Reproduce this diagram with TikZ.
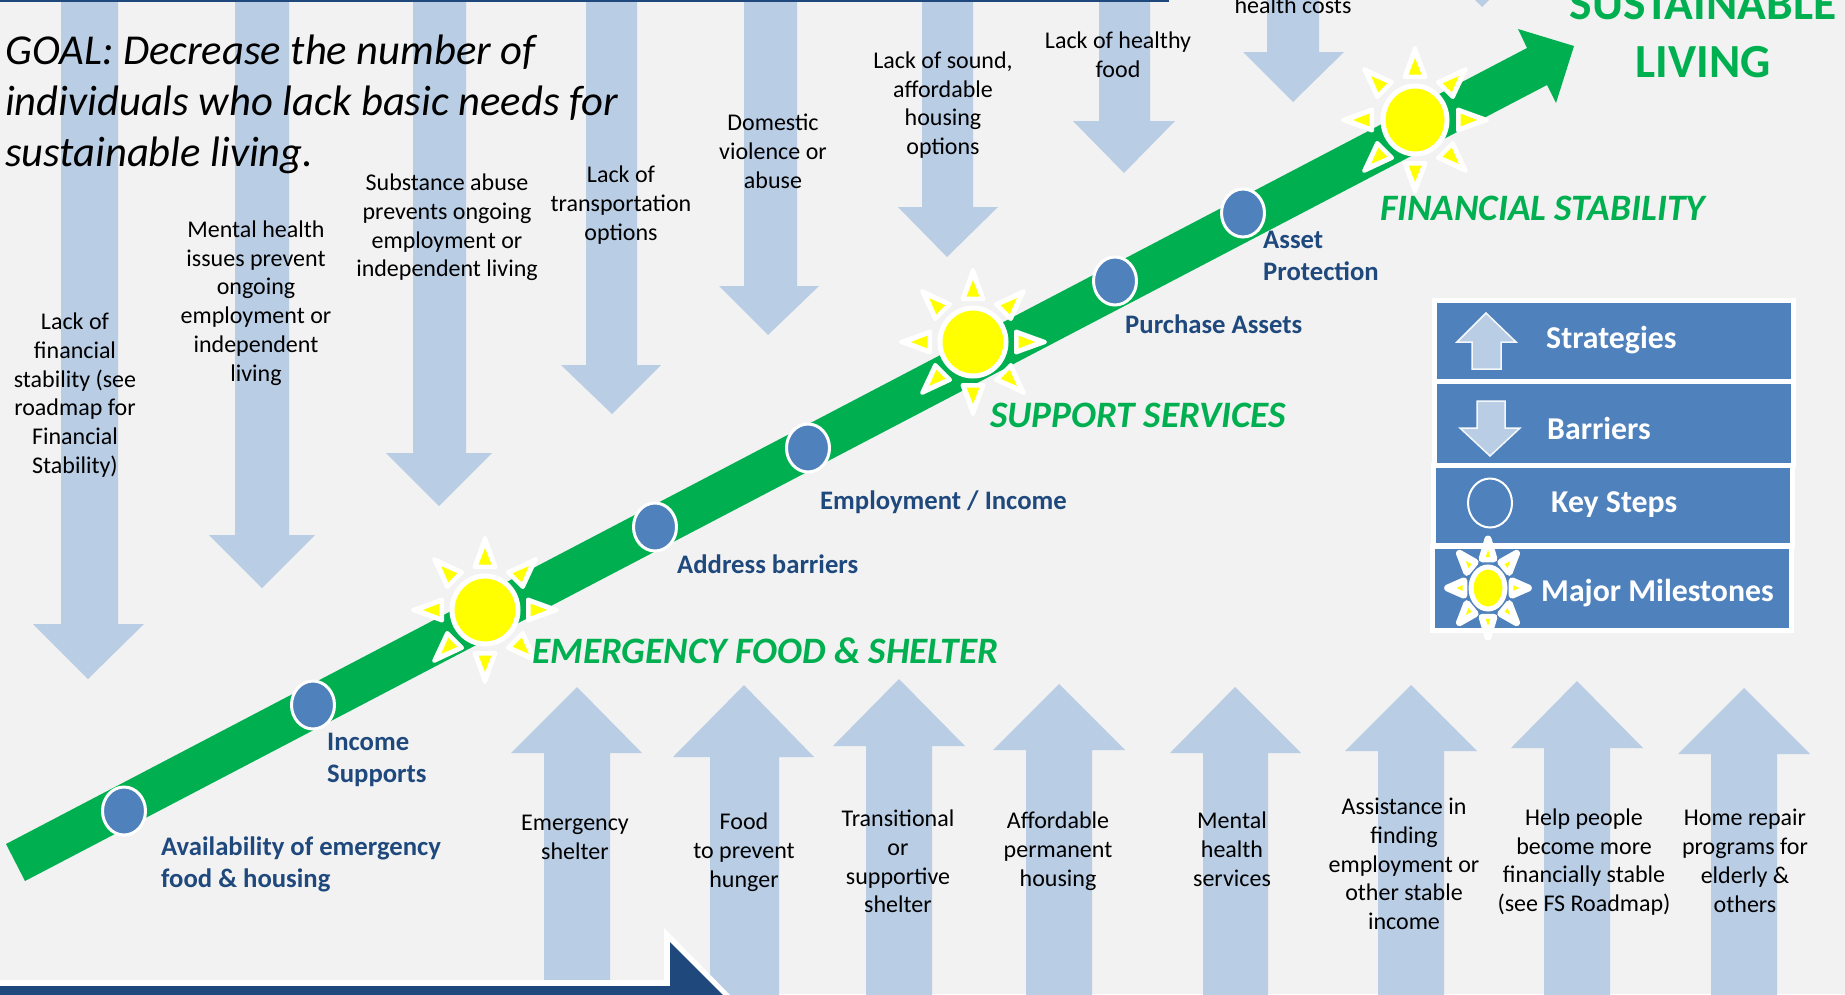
\documentclass[tikz,border=0pt]{standalone}
\usepackage{fontspec}
\setmainfont{Carlito}
\usetikzlibrary{shapes.geometric}
\definecolor{bgc}{HTML}{F2F2F2}
\definecolor{lightb}{HTML}{B9CDE5}
\definecolor{midb}{HTML}{4F81BD}
\definecolor{navy}{HTML}{1F497D}
\definecolor{grn}{HTML}{00B050}
\definecolor{ylw}{HTML}{FFFF00}
\tikzset{
  barrier/.style={fill=lightb,draw=none},
  blacktxt/.style={align=center,inner sep=0pt,text=black,font=\fontsize{24}{28.8}\selectfont},
  steplabel/.style={align=left,anchor=west,inner sep=0pt,text=navy,font=\fontsize{26.7}{32}\selectfont\bfseries},
  milelabel/.style={anchor=west,inner sep=0pt,text=grn,font=\fontsize{37.3}{42}\selectfont\bfseries\itshape},
  legendtxt/.style={anchor=west,inner sep=0pt,text=white,font=\fontsize{31.8}{36}\selectfont\bfseries},
  legendbox/.style={fill=midb,draw=white,line width=5pt,inner sep=0pt},
  keystep/.style={ellipse,fill=midb,draw=white,line width=3pt,minimum width=43pt,minimum height=48pt,inner sep=0pt}
}
% down arrow: shaft left, shaft right, head left, head right, base y, tip x, tip y
\newcommand{\downarr}[7]{\fill[barrier] (#1,-5)--(#2,-5)--(#2,#5)--(#4,#5)--(#6,#7)--(#3,#5)--(#1,#5)--cycle;}
% up arrow: shaft left, shaft right, head left, head right, base y, tip x, tip y, bottom
\newcommand{\uparr}[8]{\fill[barrier] (#1,#8)--(#1,#5)--(#3,#5)--(#6,#7)--(#4,#5)--(#2,#5)--(#2,#8)--cycle;}
% sun: name, x, y, xscale, yscale, ring rx, ring ry, white line width, yellow tip radius
\newcommand{\sunshape}[9]{%
  \begin{scope}[shift={(#2,#3)},xscale=#4,yscale=#5]
    \foreach \a in {0,45,...,315}{
      \fill[white,draw=white,line width=#8pt,line join=round] ({72*sin(\a)},{72*cos(\a)}) -- ({43*sin(\a)+10.5*cos(\a)},{43*cos(\a)-10.5*sin(\a)}) -- ({43*sin(\a)-10.5*cos(\a)},{43*cos(\a)+10.5*sin(\a)}) -- cycle;
      \pgfmathsetmacro{\hw}{(#9-45.5)*0.39}
      \fill[ylw] ({#9*sin(\a)},{#9*cos(\a)}) -- ({45.5*sin(\a)+\hw*cos(\a)},{45.5*cos(\a)-\hw*sin(\a)}) -- ({45.5*sin(\a)-\hw*cos(\a)},{45.5*cos(\a)+\hw*sin(\a)}) -- cycle;
    }
  \end{scope}
  \node[ellipse,fill=ylw,draw=white,line width=5pt,minimum width=2*#6 pt,minimum height=2*#7 pt,inner sep=0pt] (#1) at (#2,#3) {};
}
\begin{document}
\begin{tikzpicture}[x=1pt,y=-1pt]
\useasboundingbox (0,0) rectangle (1845,994);
\begin{scope}
\clip (0,0) rectangle (1845,994);
\fill[bgc] (0,0) rectangle (1845,994);
% barrier arrows
\downarr{61}{118}{33}{144}{624}{88}{679}
\downarr{235}{289}{209}{315}{535}{262}{588}
\downarr{413}{466}{386}{492}{453}{439}{506}
\downarr{586}{637}{561}{661}{365}{612}{414}
\downarr{744}{797}{719}{819}{286}{768}{335}
\downarr{922}{973}{898}{998}{207}{947}{257}
\downarr{1099}{1150}{1073}{1175}{121}{1124}{173}
\downarr{1267}{1319}{1243}{1344}{52}{1293}{102}
\fill[barrier] (1472,-3)--(1492,-3)--(1482,7)--cycle;
% top rule
\fill[navy] (0,0) rectangle (1169,2);
% strategy arrows
\uparr{544}{610}{511}{642}{753}{577}{687}{980}
\uparr{710}{779}{673}{814}{757}{744}{685}{1000}
\uparr{866}{932}{833}{965}{746}{899}{679}{1000}
\uparr{1026}{1092}{993}{1125}{750}{1059}{684}{1000}
\uparr{1203}{1268}{1170}{1301}{753}{1235}{687}{1000}
\uparr{1378}{1444}{1345}{1477}{751}{1411}{685}{1000}
\uparr{1544}{1610}{1511}{1643}{748}{1577}{681}{1000}
\uparr{1711}{1777}{1678}{1810}{754}{1744}{688}{1000}
% bottom navy arrow
\fill[white] (0,980)--(664,980)--(664,928)--(735,1000)--(0,1000)--cycle;
\fill[navy] (0,986)--(670,986)--(670,942)--(722,994)--(728,1000)--(0,1000)--cycle;
% main green arrow
\fill[grn] (6,844)--(1527,48)--(1518,29)--(1574,46)--(1556,103)--(1547,85)--(25,881)--cycle;
% key steps
\node[keystep] (k1) at (124,811) {};
\node[keystep] (k2) at (313,705) {};
\node[keystep] (k3) at (655,527) {};
\node[keystep] (k4) at (808,448) {};
\node[keystep] (k5) at (1115,281) {};
\node[keystep] (k6) at (1243,213) {};
% suns
\sunshape{s1}{485}{610}{1}{1}{33}{34}{4}{62}
\sunshape{s2}{973}{342}{1}{1}{33}{34}{4}{62}
\sunshape{s3}{1415}{120}{1}{1}{32}{34}{4}{62}
% goal
\node[anchor=west,align=left,inner sep=0pt,text=black,font=\fontsize{42.6}{51}\selectfont\itshape] (goal) at (5,104.5) {GOAL: Decrease the number of\\individuals who lack basic needs for\\sustainable living.};
% barrier labels
\node[blacktxt] (b1) at (75,395) {Lack of\\financial\\stability (see\\roadmap for\\Financial\\Stability)};
\node[blacktxt] (b2) at (256,303) {Mental health\\issues prevent\\ongoing\\employment or\\independent\\living};
\node[blacktxt] (b3) at (447,227.5) {Substance abuse\\prevents ongoing\\employment or\\independent living};
\node[blacktxt] (b4) at (621,205) {Lack of\\transportation\\options};
\node[blacktxt] (b5) at (773,151.5) {Domestic\\violence or\\abuse};
\node[blacktxt] (b6) at (943,105) {Lack of sound,\\affordable\\housing\\options};
\node[blacktxt] (b7) at (1118,55) {Lack of healthy\\food};
\node[blacktxt] (b8) at (1293,5.5) {health costs};
% strategy labels
\node[blacktxt] (t1) at (575,837) {Emergency\\shelter};
\node[blacktxt] (t2) at (744,852) {Food\\to prevent\\hunger};
\node[blacktxt] (t3) at (898,861.5) {Transitional\\or\\supportive\\shelter};
\node[blacktxt] (t4) at (1058,851) {Affordable\\permanent\\housing};
\node[blacktxt] (t5) at (1232,849) {Mental\\health\\services};
\node[blacktxt] (t6) at (1404,864) {Assistance in\\finding\\employment or\\other stable\\income};
\node[blacktxt] (t7) at (1584,862) {Help people\\become more\\financially stable\\(see FS Roadmap)};
\node[blacktxt] (t8) at (1745,861) {Home repair\\programs for\\elderly \&\\others};
% step labels
\node[steplabel] (l1) at (161,864) {Availability of emergency\\food \& housing};
\node[steplabel] (l2) at (327,760) {Income\\Supports};
\node[steplabel] (l3) at (677,564) {Address barriers};
\node[steplabel] (l4) at (820,502) {Employment / Income};
\node[steplabel] (l5) at (1125,324) {Purchase Assets};
\node[steplabel] (l6) at (1263,256) {Asset\\Protection};
% milestones
\node[milelabel] (m1) at (532,651) {EMERGENCY FOOD \& SHELTER};
\node[milelabel] (m2) at (990,415) {SUPPORT SERVICES};
\node[milelabel] (m3) at (1380,208) {FINANCIAL STABILITY};
\node[align=center,inner sep=0pt,text=grn,font=\fontsize{47.5}{58}\selectfont\bfseries] (goalend) at (1703,33) {SUSTAINABLE\\LIVING};
% legend
\node[legendbox,minimum width=359pt,minimum height=81pt] (lg1) at (1614,341) {};
\node[legendbox,minimum width=359pt,minimum height=84pt] (lg2) at (1614,423.5) {};
\node[legendbox,minimum width=359pt,minimum height=80pt] (lg3) at (1613,505.5) {};
\node[legendbox,minimum width=359pt,minimum height=84pt] (lg4) at (1612,588.5) {};
\fill[lightb,draw=white!85!lightb,line width=1.5pt] (1472,369)--(1472,342)--(1457,342)--(1486,313)--(1516,342)--(1501,342)--(1501,369)--cycle;
\fill[lightb,draw=white!85!lightb,line width=1.5pt] (1477,401)--(1505,401)--(1505,428)--(1520,428)--(1490,456)--(1460,428)--(1477,428)--cycle;
\node[ellipse,draw=white,line width=2pt,minimum width=44pt,minimum height=49pt,inner sep=0pt] (lgc) at (1490,503) {};
\sunshape{lgs}{1488}{588}{0.56}{0.68}{17}{21}{7}{56}
\node[legendtxt] (lt1) at (1546,340) {Strategies};
\node[legendtxt] (lt2) at (1547,428) {Barriers};
\node[legendtxt] (lt3) at (1551,505) {Key Steps};
\node[legendtxt] (lt4) at (1541,593) {Major Milestones};
\end{scope}
\end{tikzpicture}
\end{document}
